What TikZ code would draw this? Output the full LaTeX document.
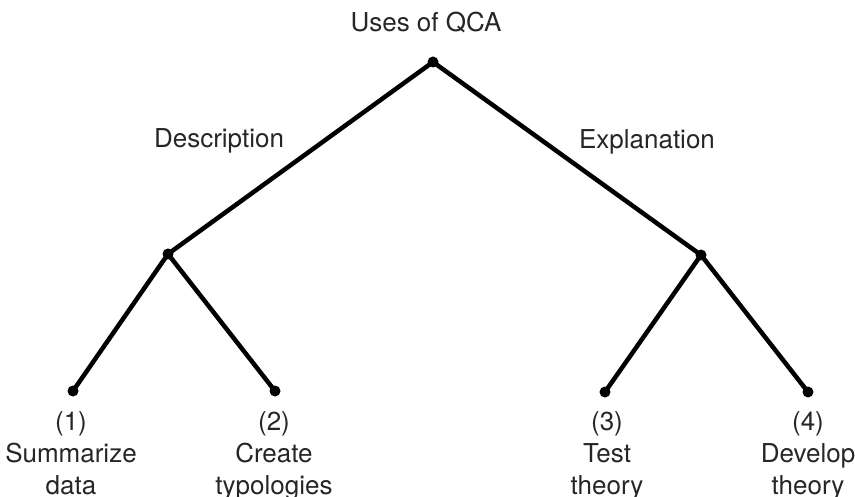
\documentclass[tikz,border=0pt]{standalone}
\usepackage{fontspec}
\setmainfont{TeX Gyre Heros}
\begin{document}
\begin{tikzpicture}[x=1pt,y=-1pt,
  branch/.style={line width=4.5pt,black},
  dot/.style={circle,fill=black,inner sep=0pt,minimum size=11pt},
  lbl/.style={text=black!85,font=\fontsize{26}{32}\selectfont,inner sep=0pt,anchor=base,align=center}]
\useasboundingbox (0,0) rectangle (855,497);
\node[dot] (top) at (433,62) {};
\node[dot] (desc) at (168,254) {};
\node[dot] (expl) at (701,255) {};
\node[dot] (l1) at (73,391) {};
\node[dot] (l2) at (275,391) {};
\node[dot] (l3) at (605,392) {};
\node[dot] (l4) at (808,392) {};
\draw[branch] (top.center) -- (desc.center);
\draw[branch] (top.center) -- (expl.center);
\draw[branch] (desc.center) -- (l1.center);
\draw[branch] (desc.center) -- (l2.center);
\draw[branch] (expl.center) -- (l3.center);
\draw[branch] (expl.center) -- (l4.center);
\node[lbl] (title) at (426,32) {Uses of QCA};
\node[lbl] (tdesc) at (219,148) {Description};
\node[lbl] (texpl) at (647,149) {Explanation};
\node[lbl] (t1) at (71,494) {(1)\\Summarize\\data};
\node[lbl] (t2) at (274,494) {(2)\\Create\\typologies};
\node[lbl] (t3) at (607,494) {(3)\\Test\\theory};
\node[lbl] (t4) at (808,494) {(4)\\Develop\\theory};
\end{tikzpicture}
\end{document}
